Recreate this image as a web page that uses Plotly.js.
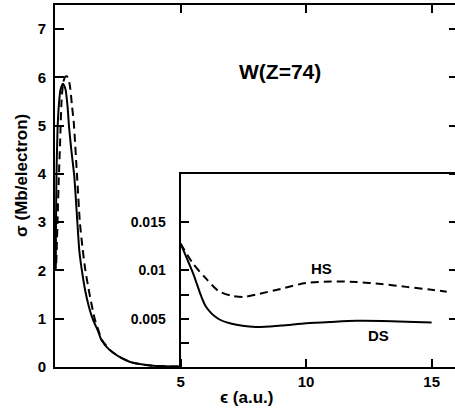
<!DOCTYPE html>
<html>
<head>
<meta charset="utf-8">
<script src="https://cdn.plot.ly/plotly-3.0.1.min.js"></script>
<style>
html,body{margin:0;padding:0;overflow:hidden;background:#fff;}
#chart{width:465px;height:408px;}
</style>
</head>
<body>
<div id="chart"></div>
<script>
// Main panel (0-5 a.u.), sigma in Mb/electron
var epsDSmain = [0.03, 0.04, 0.06, 0.10, 0.15, 0.22, 0.32, 0.42, 0.50, 0.56, 0.65, 0.77, 0.89, 0.97, 1.07, 1.20, 1.35, 1.52, 1.71, 1.85, 2.18, 2.57, 2.97, 3.37, 3.80, 4.30, 5.00];
var sigDSmain = [2.0, 3.0, 4.0, 4.9, 5.4, 5.75, 5.87, 5.75, 5.4, 4.97, 4.5, 3.94, 3.0, 2.4, 2.0, 1.59, 1.25, 0.97, 0.75, 0.56, 0.35, 0.21, 0.11, 0.06, 0.03, 0.015, 0.01];
var epsHSmain = [0.05, 0.10, 0.15, 0.20, 0.26, 0.33, 0.42, 0.52, 0.60, 0.68, 0.75, 0.88, 0.99, 1.10, 1.21, 1.38, 1.58, 1.73, 1.87, 2.20, 2.57, 2.97, 3.37, 3.80, 4.30, 5.00];
var sigHSmain = [2.15, 3.0, 3.9, 4.6, 5.5, 5.9, 6.02, 6.0, 5.8, 5.4, 5.05, 3.94, 3.0, 2.45, 2.0, 1.5, 1.0, 0.76, 0.56, 0.35, 0.21, 0.11, 0.06, 0.03, 0.015, 0.01];

// Inset panel (5-16 a.u.)
var epsDSinset = [5, 5.5, 6, 6.5, 7, 8, 9, 10, 11, 12, 13, 14, 15];
var sigDSinset = [0.0128, 0.0097, 0.0063, 0.0050, 0.0045, 0.00415, 0.0043, 0.00453, 0.00467, 0.00478, 0.00477, 0.0047, 0.0046];
var epsHSinset = [5, 5.5, 6, 6.5, 7, 7.5, 8, 9, 10, 11, 12, 13, 14, 15, 15.6];
var sigHSinset = [0.0128, 0.0107, 0.0092, 0.0079, 0.0074, 0.00725, 0.0075, 0.0081, 0.0087, 0.00886, 0.0088, 0.0086, 0.0083, 0.0080, 0.0078];

var xTicks = [5, 10, 15];
var xTickText = ['5', '10', '15'];
var yTicks = [0, 1, 2, 3, 4, 5, 6, 7];
var yTickText = ['0', '1', '2', '3', '4', '5', '6', '7'];
var y2Ticks = [0.005, 0.01, 0.015];
var y2TickText = ['0.005', '0.01', '0.015'];
var y2Minor = [0.0025, 0.0075];

var FONT = 'Liberation Sans, Arial, sans-serif';
var lineW = 2;

var traces = [
  {x: epsDSmain, y: sigDSmain, xaxis: 'x', yaxis: 'y', mode: 'lines',
   line: {color: '#000', width: lineW, shape: 'spline', smoothing: 0.6}, hoverinfo: 'skip'},
  {x: epsHSmain, y: sigHSmain, xaxis: 'x', yaxis: 'y', mode: 'lines',
   line: {color: '#000', width: lineW, dash: '8px,5px', shape: 'spline', smoothing: 0.6}, hoverinfo: 'skip'},
  {x: epsDSinset, y: sigDSinset, xaxis: 'x2', yaxis: 'y2', mode: 'lines',
   line: {color: '#000', width: lineW, shape: 'spline', smoothing: 0.8}, hoverinfo: 'skip'},
  {x: epsHSinset, y: sigHSinset, xaxis: 'x2', yaxis: 'y2', mode: 'lines',
   line: {color: '#000', width: lineW, dash: '8px,5px', shape: 'spline', smoothing: 0.8}, hoverinfo: 'skip'}
];

var xMax = 16.05;
var layout = {
  width: 465, height: 408,
  margin: {l: 55, r: 7, t: 5, b: 41},
  paper_bgcolor: '#fff', plot_bgcolor: 'rgba(0,0,0,0)',
  showlegend: false,
  font: {family: FONT, size: 14, color: '#000', weight: 'bold'},
  xaxis: {
    range: [0, xMax], domain: [0, 1], anchor: 'y',
    showgrid: false, zeroline: false,
    showline: true, linecolor: '#000', linewidth: lineW, mirror: 'ticks',
    ticks: 'inside', ticklen: 8, tickwidth: 2, tickcolor: '#000',
    tickmode: 'array', tickvals: xTicks, ticktext: xTickText,
    tickfont: {family: FONT, size: 15, weight: 'bold'}, ticklabelstandoff: 0
  },
  yaxis: {
    range: [0, 7.5], domain: [0, 1], anchor: 'x',
    showgrid: false, zeroline: false,
    showline: true, linecolor: '#000', linewidth: lineW, mirror: 'ticks',
    ticks: 'inside', ticklen: 9, tickwidth: 2, tickcolor: '#000',
    tickmode: 'array', tickvals: yTicks, ticktext: yTickText,
    tickfont: {family: FONT, size: 15, weight: 'bold'}, ticklabelstandoff: 4
  },
  xaxis2: {
    range: [5, xMax], domain: [5 / xMax, 1], anchor: 'y2',
    showgrid: false, zeroline: false,
    showline: true, linecolor: '#000', linewidth: lineW, mirror: true,
    ticks: '', showticklabels: false
  },
  yaxis2: {
    range: [0, 0.02], domain: [0, 4 / 7.5], anchor: 'x2',
    showgrid: false, zeroline: false,
    showline: true, linecolor: '#000', linewidth: lineW, mirror: true,
    ticks: 'inside', ticklen: 8, tickwidth: 2, tickcolor: '#000',
    tickmode: 'array', tickvals: y2Ticks, ticktext: y2TickText,
    minor: {tickmode: 'array', tickvals: y2Minor, ticks: 'inside', ticklen: 8, tickwidth: 2, tickcolor: '#000'},
    tickfont: {family: FONT, size: 14, weight: 'bold'}, ticklabelstandoff: 10
  },
  annotations: [
    {text: 'W(Z=74)', xref: 'paper', yref: 'paper', x: 0.558, y: 0.815,
     showarrow: false, xanchor: 'center', yanchor: 'middle',
     font: {family: FONT, size: 21, weight: 'bold'}},
    {text: 'HS', xref: 'x2', yref: 'y2', x: 10.6, y: 0.0102,
     showarrow: false, xanchor: 'center', yanchor: 'middle',
     font: {family: FONT, size: 15, weight: 'bold'}},
    {text: 'DS', xref: 'x2', yref: 'y2', x: 12.9, y: 0.0033,
     showarrow: false, xanchor: 'center', yanchor: 'middle',
     font: {family: FONT, size: 15, weight: 'bold'}},
    {text: 'σ (Mb/electron)', xref: 'paper', yref: 'paper', x: -0.085, y: 0.53,
     showarrow: false, xanchor: 'center', yanchor: 'middle', textangle: -90,
     font: {family: FONT, size: 17, weight: 'bold'}},
    {text: 'ϵ (a.u.)', xref: 'paper', yref: 'paper', x: 0.476, y: -0.083,
     showarrow: false, xanchor: 'center', yanchor: 'middle',
     font: {family: FONT, size: 17, weight: 'bold'}}
  ]
};

Plotly.newPlot('chart', traces, layout, {staticPlot: true, displayModeBar: false, responsive: false});
</script>
</body>
</html>
